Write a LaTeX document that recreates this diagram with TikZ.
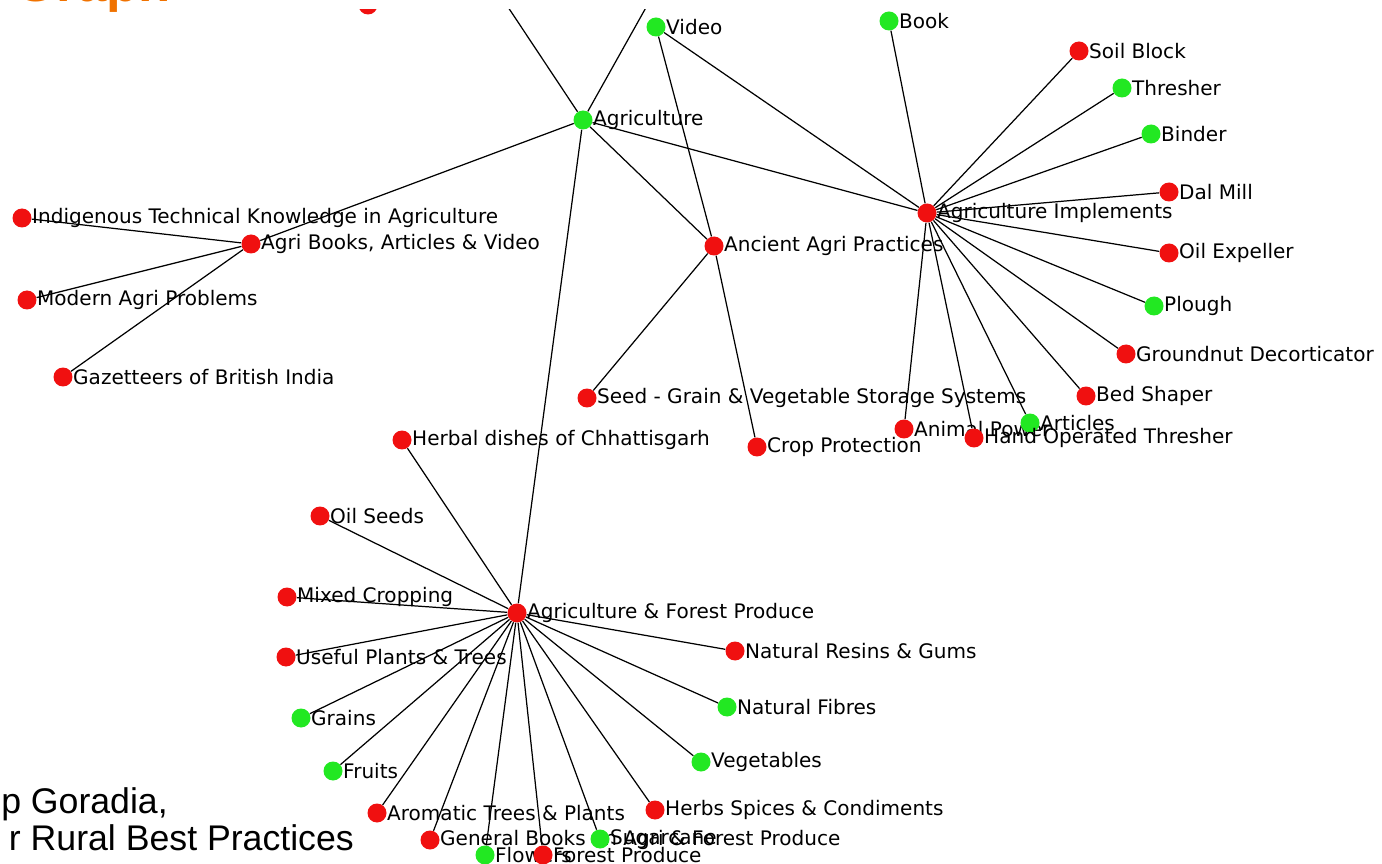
\documentclass[tikz,border=0pt]{standalone}
\usepackage{fontspec}
\setmainfont{Liberation Sans}
\newfontfamily\graphfont{DejaVu Sans}
\definecolor{ptred}{RGB}{240,16,16}
\definecolor{ptgreen}{RGB}{34,232,34}
\definecolor{titleorange}{RGB}{240,114,0}
\newcommand{\lblsize}{\graphfont\fontsize{11.4}{13}\selectfont}

\begin{document}
\begin{tikzpicture}[x=0.02cm, y=-0.02cm,
	rednd/.style={circle, fill=ptred, inner sep=0pt, minimum size=0.38cm, label distance=0pt},
	greennd/.style={rednd, fill=ptgreen},
	every label/.style={font=\lblsize, inner sep=0pt, text=black},
	link/.style={line width=0.7pt}]
	\useasboundingbox (0,0) rectangle (1382,864);
	\clip (0,0) rectangle (1382,864);

	% slide texts
	\node[anchor=base east, text=titleorange, font=\bfseries\fontsize{30}{36}\selectfont] (title) at (177,2) {Graph};
	\node[anchor=base east, font=\fontsize{20.3}{24}\selectfont] (author) at (174,813) {p Goradia,};
	\node[anchor=base east, font=\fontsize{20.3}{24}\selectfont] (source) at (360,850) {r Rural Best Practices};

	\begin{scope}
	\clip (0,10) rectangle (1382,864);
	\node[rednd] (topred) at (368,5) {};
	\coordinate (upA) at (500,-5);
	\coordinate (upB) at (653,-5);

	% upper part
	\node[greennd, label={0:Agriculture}] (agr) at (583,120) {};
	\node[greennd, label={0:Video}] (video) at (656,27) {};
	\node[greennd, label={0:Book}] (book) at (889,21) {};
	\node[rednd, label={0:Soil Block}] (soil) at (1079,51) {};
	\node[greennd, label={0:Thresher}] (thresh) at (1122,88) {};
	\node[greennd, label={0:Binder}] (binder) at (1151,134) {};
	\node[rednd, label={0:Dal Mill}] (dal) at (1169,192) {};
	\node[rednd, label={0:Agriculture Implements}] (impl) at (927,213) {};
	\node[rednd, label={0:Oil Expeller}] (oilexp) at (1169,253) {};
	\node[greennd, label={0:Plough}] (plough) at (1154,306) {};
	\node[rednd, label={0:Groundnut Decorticator}] (ground) at (1126,354) {};
	\node[rednd, label={0:Bed Shaper}] (bed) at (1086,396) {};
	\node[rednd, label={0:Animal Power}] (animal) at (904,429) {};
	\node[greennd, label={0:Articles}] (artic) at (1030,423) {};
	\node[rednd, label={0:Hand Operated Thresher}] (hand) at (974,438) {};
	\node[rednd, label={0:Ancient Agri Practices}] (ancient) at (714,246) {};
	\node[rednd, label={0:Seed - Grain \& Vegetable Storage Systems}] (seed) at (587,398) {};
	\node[rednd, label={0:Crop Protection}] (crop) at (757,447) {};

	% left part
	\node[rednd, label={0:{Agri Books, Articles \& Video}}] (books) at (251,244) {};
	\node[rednd, label={0:Indigenous Technical Knowledge in Agriculture}] (itk) at (22,218) {};
	\node[rednd, label={0:Modern Agri Problems}] (modern) at (27,300) {};
	\node[rednd, label={0:Gazetteers of British India}] (gazet) at (63,377) {};

	% lower part
	\node[rednd, label={0:Herbal dishes of Chhattisgarh}] (herbal) at (402,440) {};
	\node[rednd, label={0:Oil Seeds}] (oilseed) at (320,516) {};
	\node[rednd, label={0:Mixed Cropping}] (mixed) at (287,597) {};
	\node[rednd, label={0:Agriculture \& Forest Produce}] (afp) at (517,613) {};
	\node[rednd, label={0:Useful Plants \& Trees}] (useful) at (286,657) {};
	\node[rednd, label={0:Natural Resins \& Gums}] (resins) at (735,651) {};
	\node[greennd, label={0:Grains}] (grains) at (301,718) {};
	\node[greennd, label={0:Natural Fibres}] (fibres) at (727,707) {};
	\node[greennd, label={0:Fruits}] (fruits) at (333,771) {};
	\node[greennd, label={0:Vegetables}] (veg) at (701,762) {};
	\node[rednd, label={0:Aromatic Trees \& Plants}] (arom) at (377,813) {};
	\node[rednd, label={0:Herbs Spices \& Condiments}] (herbs) at (655,810) {};
	\node[rednd, label={0:General Books on Agri \& Forest Produce}] (genbk) at (430,840) {};
	\node[greennd, label={0:Sugarcane}] (sugar) at (600,839) {};
	\node[greennd, label={0:Flowers}] (flowers) at (485,855) {};
	\node[rednd, label={0:Forest Produce}] (forest) at (543,855) {};

	\foreach \a/\b in {agr/upA, agr/upB, agr/books, agr/ancient, agr/impl, agr/afp,
		video/ancient, video/impl, ancient/seed, ancient/crop,
		books/itk, books/modern, books/gazet}
		\draw[link] (\a) -- (\b);
	\foreach \b in {book, soil, thresh, binder, dal, oilexp, plough, ground, bed, artic, hand, animal}
		\draw[link] (impl) -- (\b);
	\foreach \b in {herbal, oilseed, mixed, useful, resins, grains, fibres, fruits, veg, arom, herbs, genbk, sugar, flowers, forest}
		\draw[link] (afp) -- (\b);
	\end{scope}
\end{tikzpicture}
\end{document}
